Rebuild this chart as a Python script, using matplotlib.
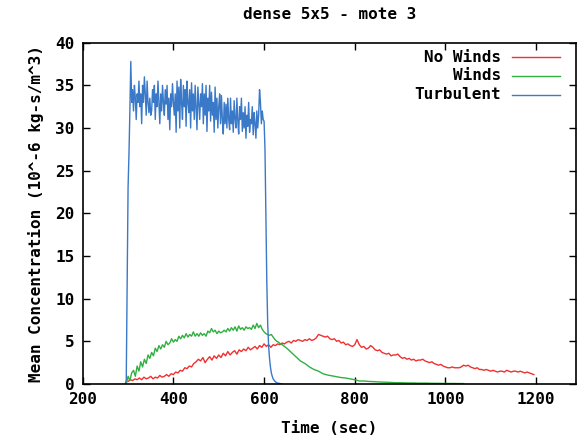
import numpy as np
import matplotlib
matplotlib.use("Agg")
import matplotlib.pyplot as plt
from matplotlib.lines import Line2D

# ---------------- data ----------------
title = "dense 5x5 - mote 3"
xlabel = "Time (sec)"
ylabel = "Mean Concentration (10^-6 kg-s/m^3)"
series_names = ["No Winds", "Winds", "Turbulent"]
x_ticks = [200, 400, 600, 800, 1000, 1200]
y_ticks = [0, 5, 10, 15, 20, 25, 30, 35, 40]

# No Winds: sampled every 5 s starting at 300 s
nowind_start, nowind_step = 300, 5
nowind_vals = [
    0.3, 0.5, 0.4, 0.6, 0.5, 0.7, 0.5, 0.8, 0.6, 0.7,
    0.9, 0.6, 0.8, 0.7, 1.0, 0.8, 0.9, 1.1, 0.9, 1.2,
    1.1, 1.4, 1.3, 1.6, 1.5, 1.9, 1.8, 2.1, 2.0, 2.4,
    2.6, 2.9, 2.7, 3.1, 2.5, 2.9, 3.2, 2.8, 3.3, 3.0,
    3.4, 3.1, 3.6, 3.3, 3.8, 3.4, 3.7, 3.9, 3.5, 4.0,
    3.8, 4.1, 3.9, 4.3, 4.0, 4.2, 4.4, 4.1, 4.5, 4.3,
    4.7, 4.4, 4.6, 4.3, 4.6, 4.5, 4.7, 4.6, 4.8, 4.7,
    4.9, 5.0, 4.8, 5.1, 5.0, 5.2, 5.1, 5.0, 5.2, 5.1,
    5.3, 5.1, 5.2, 5.4, 5.8, 5.7, 5.6, 5.5, 5.6, 5.3,
    5.2, 5.3, 5.0, 5.1, 4.8, 4.9, 4.6, 4.7, 4.5, 4.4,
    4.6, 5.2, 4.6, 4.3, 4.4, 4.1, 4.2, 4.5, 4.3, 4.0,
    3.9, 4.0, 3.7, 3.6, 3.5, 3.6, 3.3, 3.4, 3.4, 3.5,
    3.2, 3.0, 3.1, 2.9, 3.0, 2.8, 2.9, 2.7, 2.8, 2.8,
    2.9, 2.7, 2.6, 2.5, 2.6, 2.4, 2.3, 2.2, 2.3, 2.1,
    2.0, 1.9, 1.9, 2.0, 1.9, 1.9, 1.9, 2.0, 2.2, 2.1,
    2.2, 2.0, 1.9, 1.8, 1.9, 1.7, 1.7, 1.6, 1.7, 1.6,
    1.5, 1.6, 1.5, 1.4, 1.5, 1.5, 1.4, 1.6, 1.5, 1.4,
    1.5, 1.5, 1.4, 1.5, 1.4, 1.3, 1.4, 1.3, 1.2, 1.1,
]

# Winds: every 4 s from 296 s, then every 10 s from 640 s
wind_a_start, wind_a_step = 296, 4
wind_vals_a = [
    0.0, 0.9, 0.4, 1.3, 1.6, 0.9, 2.1, 1.5, 2.6, 2.0,
    2.9, 2.4, 3.4, 3.0, 3.7, 3.3, 4.2, 3.8, 4.5, 4.1,
    4.6, 4.3, 5.0, 4.6, 4.8, 5.3, 4.9, 5.2, 5.0, 5.6,
    5.3, 5.7, 5.4, 5.9, 5.5, 5.8, 5.6, 6.1, 5.6, 5.9,
    5.6, 6.0, 5.7, 5.9, 5.6, 6.2, 6.0, 6.5, 6.1, 6.3,
    5.9, 6.2, 6.0, 6.1, 6.3, 6.1, 6.5, 6.2, 6.6, 6.3,
    6.7, 6.2, 6.8, 6.4, 6.6, 6.3, 6.7, 6.5, 6.6, 6.4,
    6.9, 6.5, 7.1, 6.6, 6.9, 6.4, 6.1, 5.9, 5.8, 5.7,
    5.8, 5.5, 5.2, 5.0, 4.9, 4.7,
]
wind_b_start, wind_b_step = 640, 10
wind_vals_b = [
    4.6, 4.2, 3.7, 3.2, 2.7, 2.4, 2.0, 1.7, 1.5, 1.2,
    1.05, 0.95, 0.85, 0.75, 0.7, 0.6, 0.5, 0.35, 0.35, 0.3,
    0.28, 0.25, 0.22, 0.2, 0.18, 0.15, 0.15, 0.13, 0.12, 0.12,
    0.1, 0.1, 0.1, 0.08, 0.08, 0.07, 0.07, 0.06, 0.06, 0.05, 0.05,
]

# Turbulent: every 2 s from 294 s
turb_start, turb_step = 294, 2
turb_vals = [
    0.0, 0.5, 12.0, 23.0, 27.0, 32.0, 37.8,
    33.0, 34.5, 32.0, 35.0, 33.5, 31.0, 34.0, 33.0, 35.5, 32.5, 34.0, 30.5, 35.0, 33.0, 36.0, 34.0, 31.5,
    35.5, 33.0, 31.8, 33.5, 31.5, 32.0, 34.5, 33.0, 35.0, 31.0, 34.0, 32.5, 35.5, 33.0, 30.5,
    34.0, 32.0, 35.0, 33.0, 31.5, 34.5, 32.8, 35.0, 31.0, 33.5, 29.8, 34.0, 32.5, 35.2, 33.0,
    31.5, 34.0, 29.5, 35.5, 32.0, 34.8, 30.0, 35.7, 33.0, 31.0, 35.0, 32.5, 34.5, 30.2, 35.5,
    33.0, 31.8, 34.5, 30.0, 35.3, 32.0, 34.0, 31.0, 35.0, 32.5, 29.8, 34.8, 33.0, 31.0, 34.0,
    32.5, 35.2, 30.5, 34.0, 31.5, 35.0, 29.6, 33.5, 32.0, 35.0, 30.8, 34.2, 31.5, 33.0, 29.5,
    34.8, 31.0, 33.5, 30.0, 32.5, 34.0, 30.5, 33.8, 31.0, 29.3, 33.0, 30.5, 32.8, 30.0, 33.5,
    31.0, 29.8, 33.5, 30.5, 32.0, 29.5, 33.2, 31.0, 30.0, 33.5, 30.8, 29.3, 32.5, 31.0, 33.5,
    29.6, 31.8, 30.0, 32.5, 28.8, 31.5, 30.2, 33.0, 29.5, 31.0, 30.5, 32.5, 29.2, 31.8, 30.5,
    28.8, 32.0, 30.0, 31.5, 34.5, 33.0, 30.5, 32.0, 31.0,
    30.8, 27.5, 20.0, 12.0, 7.0, 4.5, 3.0, 2.0, 1.3, 0.9,
    0.6, 0.45, 0.3, 0.22, 0.15, 0.1, 0.08, 0.05, 0.04, 0.02, 0.0,
]

colors = ["#f03030", "#30b040", "#3a78c8"]

# ---------------- figure ----------------
fig = plt.figure(figsize=(5.83, 4.41), dpi=100)
ax = fig.add_axes([0.1419, 0.1293, 0.988 - 0.1419, 0.9032 - 0.1293])

font = dict(family="DejaVu Sans Mono", weight="bold", size=11.5)

nowind_t = nowind_start + nowind_step * np.arange(len(nowind_vals))
wind_t = np.concatenate([wind_a_start + wind_a_step * np.arange(len(wind_vals_a)),
                         wind_b_start + wind_b_step * np.arange(len(wind_vals_b))])
wind_v = np.concatenate([wind_vals_a, wind_vals_b])
turb_t = turb_start + turb_step * np.arange(len(turb_vals))

lw = 1.0
ax.plot(nowind_t, nowind_vals, color=colors[0], lw=lw)
ax.plot(wind_t, wind_v, color=colors[1], lw=lw)
ax.plot(turb_t, turb_vals, color=colors[2], lw=lw)

ax.set_xlim(200, 1288)
ax.set_ylim(0, 40)
ax.set_xticks(x_ticks)
ax.set_yticks(y_ticks)
ax.set_xticklabels([str(v) for v in x_ticks], fontdict=font)
ax.set_yticklabels([str(v) for v in y_ticks], fontdict=font)
ax.tick_params(direction="in", length=5, width=1.0, top=True, right=True,
               pad=6, colors="black")
for s in ax.spines.values():
    s.set_linewidth(1.2)

ax.set_title(title, fontdict=font, pad=17)
ax.set_xlabel(xlabel, fontdict=font, labelpad=10)
ax.set_ylabel(ylabel, fontdict=font, labelpad=8)

# legend (gnuplot style: right-aligned labels, sample lines on the right)
rows_y = [0.957, 0.903, 0.847]
for name, c, yy in zip(series_names, colors, rows_y):
    ax.text(0.848, yy, name, transform=ax.transAxes, ha="right", va="center",
            fontdict=font)
    ax.add_line(Line2D([0.870, 0.967], [yy, yy], transform=ax.transAxes,
                       color=c, lw=1.0))

fig.savefig("out.png", dpi=100)
